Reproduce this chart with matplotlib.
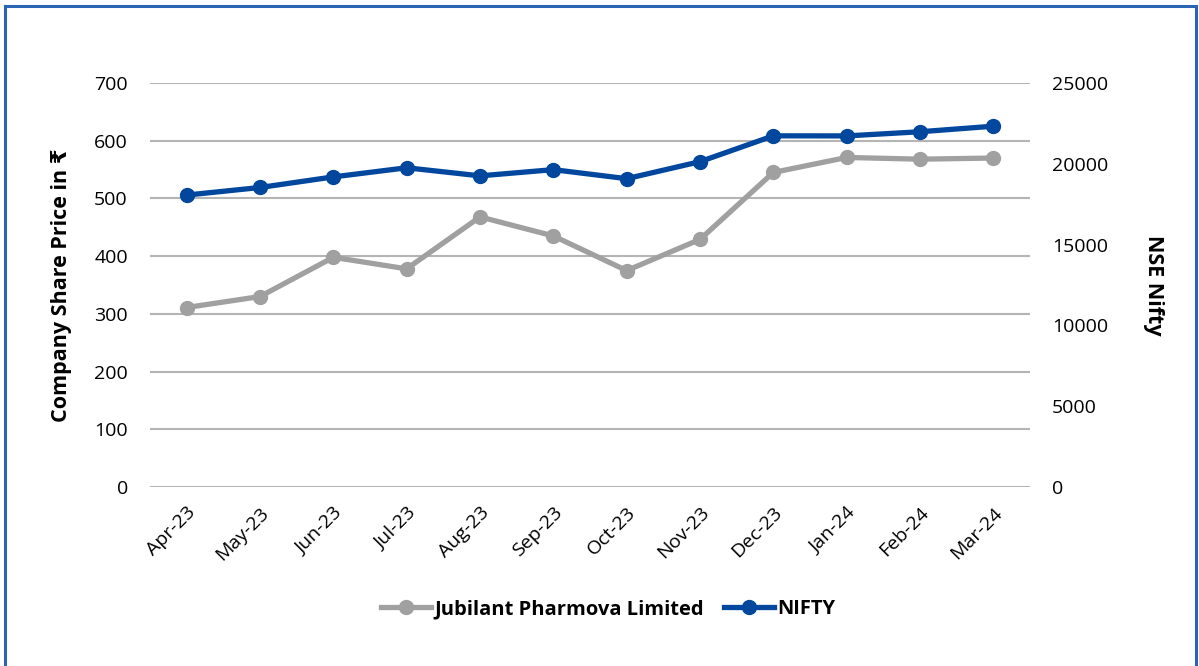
import matplotlib.pyplot as plt
from matplotlib.lines import Line2D

plt.rcParams['font.family'] = ['Open Sans', 'DejaVu Sans']

months = ["Apr-23", "May-23", "Jun-23", "Jul-23", "Aug-23", "Sep-23",
          "Oct-23", "Nov-23", "Dec-23", "Jan-24", "Feb-24", "Mar-24"]
jubilant = [311, 330, 398, 378, 468, 435, 375, 429, 545, 571, 568, 570]
nifty = [18065, 18534, 19189, 19754, 19254, 19638, 19080, 20133, 21731, 21726, 21983, 22327]

grey = "#A0A0A0"
blue = "#00479D"

fig = plt.figure(figsize=(11.99, 6.66), dpi=100)
ax = fig.add_axes([150 / 1199, 1 - 487 / 666, 880 / 1199, 404 / 666])
ax2 = ax.twinx()

x = range(len(months))
ax.plot(x, jubilant, color=grey, lw=3.8, marker="o", ms=10, zorder=3)
ax2.plot(x, nifty, color=blue, lw=3.8, marker="o", ms=10, zorder=3)

ax.set_xlim(-0.5, len(months) - 0.5)
ax.set_ylim(0, 700)
ax.set_yticks(range(0, 701, 100))
ax2.set_ylim(0, 25000)
ax2.set_yticks(range(0, 25001, 5000))

ax.set_xticks(list(x))
ax.set_xticklabels(months, rotation=45, ha="right", rotation_mode="anchor", fontsize=14)
ax.tick_params(axis="x", length=0, pad=12)
ax.tick_params(axis="y", length=0, pad=16, labelsize=14)
ax2.tick_params(axis="y", length=0, pad=16, labelsize=14)

ax.grid(axis="y", color="#B4B4B4", lw=1.5)
ax.set_axisbelow(True)
for a in (ax, ax2):
    for s in a.spines.values():
        s.set_visible(False)

ax.set_ylabel("Company Share Price in ₹", fontsize=15.5, fontweight="bold", labelpad=16)
ax2.set_ylabel("NSE Nifty", fontsize=15.5, fontweight="bold", rotation=270, labelpad=40)

handles = [Line2D([], [], color=grey, lw=3.8, marker="o", ms=10),
           Line2D([], [], color=blue, lw=3.8, marker="o", ms=10)]
fig.legend(handles, ["Jubilant Pharmova Limited", "NIFTY"], loc="center",
           bbox_to_anchor=(608 / 1199, 1 - 609 / 666), ncol=2, frameon=False,
           prop={"size": 14.5, "weight": "bold"}, handlelength=2.5, columnspacing=1.0,
           handletextpad=0.15)

# blue frame around the figure (bottom edge runs off the image)
border = dict(color="#2B63B5", lw=2.2, transform=fig.transFigure)
fig.add_artist(Line2D([5 / 1199, 5 / 1199], [0, 1 - 6 / 666], **border))
fig.add_artist(Line2D([1196 / 1199, 1196 / 1199], [0, 1 - 6 / 666], **border))
fig.add_artist(Line2D([5 / 1199, 1196 / 1199], [1 - 6 / 666, 1 - 6 / 666], **border))

fig.savefig("out.png", dpi=100)
